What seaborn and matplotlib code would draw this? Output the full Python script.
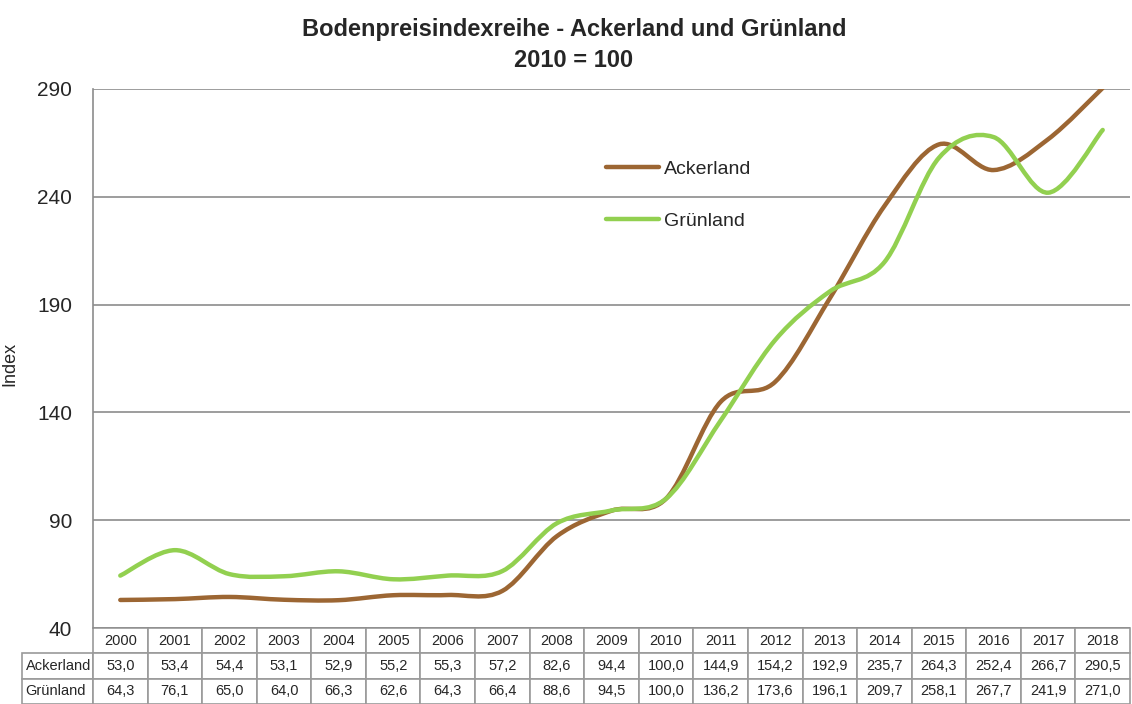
import numpy as np
import pandas as pd
import seaborn as sns
import matplotlib.pyplot as plt
from matplotlib.path import Path
from matplotlib.patches import PathPatch
from matplotlib.lines import Line2D

years = [str(y) for y in range(2000, 2019)]
ackerland = [53.0, 53.4, 54.4, 53.1, 52.9, 55.2, 55.3, 57.2, 82.6, 94.4,
             100.0, 144.9, 154.2, 192.9, 235.7, 264.3, 252.4, 266.7, 290.5]
gruenland = [64.3, 76.1, 65.0, 64.0, 66.3, 62.6, 64.3, 66.4, 88.6, 94.5,
             100.0, 136.2, 173.6, 196.1, 209.7, 258.1, 267.7, 241.9, 271.0]
series_names = ["Ackerland", "Grünland"]
colors = {"Ackerland": "#9C6633", "Grünland": "#92D050"}
yticks = [40, 90, 140, 190, 240, 290]

sns.set_theme(style="white")
plt.rcParams['font.family'] = ['Liberation Sans', 'DejaVu Sans']


def smooth_path(xs, ys):
    # Bezier curve through the points (like Excel's smoothed line)
    pts = np.column_stack([xs, ys]).astype(float)
    n = len(pts)
    verts = [pts[0]]
    codes = [Path.MOVETO]
    for i in range(n - 1):
        p0 = pts[i - 1] if i > 0 else pts[i]
        p1 = pts[i]
        p2 = pts[i + 1]
        p3 = pts[i + 2] if i + 2 < n else pts[i + 1]
        c1 = p1 + (p2 - p0) / 6.0
        c2 = p2 - (p3 - p1) / 6.0
        verts += [c1, c2, p2]
        codes += [Path.CURVE4] * 3
    return Path(verts, codes)


df = pd.DataFrame({"Jahr": list(range(len(years))) * 2,
                   "Index": ackerland + gruenland,
                   "Art": ["Ackerland"] * len(years) + ["Grünland"] * len(years)})

fig = plt.figure(figsize=(11.32, 7.04), dpi=100)
ax = fig.add_axes([93 / 1132, 1 - 628 / 704, 1037 / 1132, 539 / 704])

# seaborn sets the scales; the visible curves are smoothed paths
sns.lineplot(data=df, x="Jahr", y="Index", hue="Art", palette=colors,
             ax=ax, legend=False, linewidth=0)

for name, vals in zip(series_names, [ackerland, gruenland]):
    patch = PathPatch(smooth_path(np.arange(len(years)), vals), facecolor="none",
                      edgecolor=colors[name], lw=3.2, capstyle="round", zorder=3)
    ax.add_patch(patch)

ax.set_xlim(-0.5, len(years) - 0.5)
ax.set_ylim(40, 290)
ax.set_yticks(yticks)
ax.set_yticklabels([str(t) for t in yticks], fontsize=15)
ax.tick_params(axis="y", length=0, pad=15)
ax.set_xticks([])
ax.set_xlabel("")
ax.set_ylabel("Index", fontsize=13)
ax.yaxis.set_label_coords(-75 / 1037, 0.49)
ax.yaxis.grid(True, color="#8c8c8c", linewidth=1.2)
ax.set_axisbelow(True)
for side in ["top", "right", "bottom"]:
    ax.spines[side].set_visible(False)
ax.spines["left"].set_color("#8c8c8c")
ax.spines["left"].set_linewidth(1.2)

handles = [Line2D([0], [0], color=colors[n], lw=3.2, solid_capstyle="round") for n in series_names]
ax.legend(handles, series_names, loc="upper left", bbox_to_anchor=(0.478, 0.9),
          frameon=False, fontsize=14, labelspacing=1.75, handlelength=2.7,
          handletextpad=0.25)

fig.suptitle("Bodenpreisindexreihe - Ackerland und Grünland\n2010 = 100",
             fontsize=17, fontweight="bold", y=0.974, x=0.507, linespacing=1.4)

# table below the axes: first column holds the row labels
fmt = lambda v: f"{v:.1f}".replace(".", ",")
cell_text = [[""] + years,
             ["Ackerland"] + [fmt(v) for v in ackerland],
             ["Grünland"] + [fmt(v) for v in gruenland]]
label_w = 71 / 1108
col_w = (1 - label_w) / len(years)
tab = ax.table(cellText=cell_text, cellLoc="center",
               colWidths=[label_w] + [col_w] * len(years),
               bbox=[-71 / 1037, -76 / 539, 1108 / 1037, 76 / 539])
tab.auto_set_font_size(False)
for (r, c), cell in tab.get_celld().items():
    cell.set_edgecolor("#9a9a9a")
    cell.set_linewidth(1.2)
    cell.get_text().set_fontsize(10.5)
    if c == 0:
        cell.get_text().set_horizontalalignment("left")
        cell.PAD = 0.05
    if r == 0 and c == 0:
        cell.visible_edges = ""

fig.savefig("out.png", dpi=100)
